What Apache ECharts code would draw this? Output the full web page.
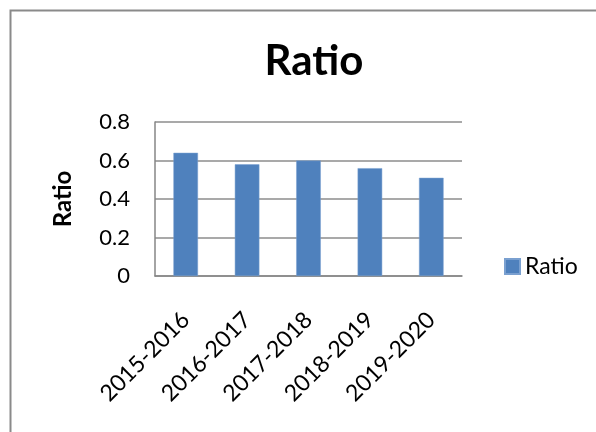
<!DOCTYPE html>
<html>
<head>
<meta charset="utf-8">
<script src="https://cdn.jsdelivr.net/npm/echarts@6/dist/echarts.min.js"></script>
<style>
html,body{margin:0;padding:0;background:#fff;}
#c{width:596px;height:432px;}
</style>
</head>
<body>
<div id="c"></div>
<script>
const categories = ['2015-2016', '2016-2017', '2017-2018', '2018-2019', '2019-2020'];
const ratioValues = [0.64, 0.58, 0.60, 0.56, 0.51];
const seriesName = 'Ratio';
const chartTitle = 'Ratio';
const yAxisName = 'Ratio';

const chart = echarts.init(document.getElementById('c'));
const FONT = 'Lato, "Open Sans", sans-serif';
chart.setOption({
  animation: false,
  backgroundColor: '#ffffff',
  textStyle: { fontFamily: FONT },
  graphic: [{
    type: 'rect',
    shape: { x: 10.5, y: 10.5, width: 700, height: 600 },
    style: { fill: 'none', stroke: '#8a8a8a', lineWidth: 2 },
    silent: true, z: -1
  }],
  title: {
    text: chartTitle,
    left: 309,
    top: 35,
    textAlign: 'center',
    textStyle: { fontFamily: FONT, fontWeight: 'bold', fontSize: 42, color: '#000' }
  },
  legend: {
    data: [seriesName],
    left: 499,
    top: 250,
    itemWidth: 15,
    itemHeight: 15,
    itemGap: 10,
    icon: 'rect',
    textStyle: { fontFamily: FONT, fontSize: 23, color: '#000', padding: [0, 0, 0, 0] }
  },
  grid: { left: 155, top: 122, right: 134, bottom: 156, containLabel: false },
  xAxis: {
    type: 'category',
    data: categories,
    axisLine: { show: true, lineStyle: { color: '#868686', width: 1.5 } },
    axisTick: { show: false },
    axisLabel: { rotate: 45, margin: 40, fontFamily: FONT, fontSize: 23, color: '#000', interval: 0 }
  },
  yAxis: {
    type: 'value',
    min: 0, max: 0.8, interval: 0.2,
    name: yAxisName,
    nameLocation: 'middle',
    nameRotate: 90,
    nameGap: 80,
    nameTextStyle: { fontFamily: FONT, fontWeight: 'bold', fontSize: 24, color: '#000' },
    axisLine: { show: true, lineStyle: { color: '#868686', width: 1.5 } },
    axisTick: { show: false },
    axisLabel: { margin: 25, fontFamily: FONT, fontSize: 22, color: '#000',
      formatter: v => (v === 0 ? '0' : v.toFixed(1)) },
    splitLine: { show: true, lineStyle: { color: '#8c8c8c', width: 1.5 } }
  },
  series: [{
    name: seriesName,
    type: 'bar',
    data: ratioValues,
    barCategoryGap: '60%',
    itemStyle: { color: '#4F81BD', borderColor: '#7aa0d0', borderWidth: 0.5 }
  }]
});
</script>
</body>
</html>
